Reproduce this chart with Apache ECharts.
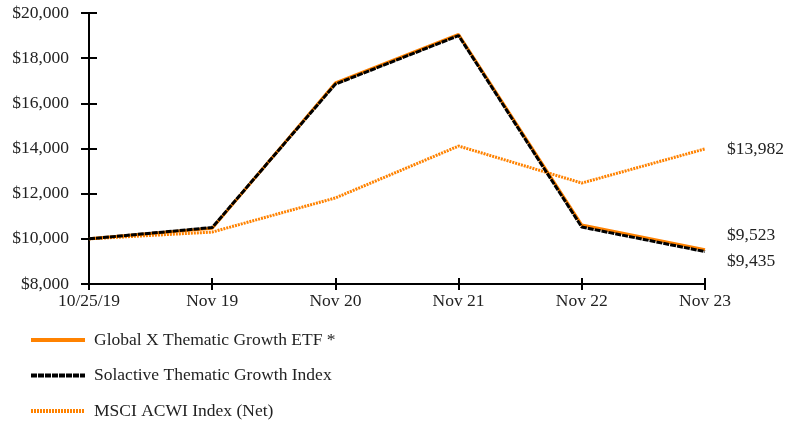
<!DOCTYPE html>
<html>
<head>
<meta charset="utf-8">
<script src="https://cdn.jsdelivr.net/npm/echarts@6/dist/echarts.min.js"></script>
<style>
	html, body { margin: 0; padding: 0; background: #ffffff; }
	#growthChart { width: 792px; height: 422px; }
</style>
</head>
<body>
<div id="growthChart"></div>
<script>
var dateLabels = ["10/25/19", "Nov 19", "Nov 20", "Nov 21", "Nov 22", "Nov 23"];
var etfValues = [10000, 10470, 16900, 19050, 10610, 9523];
var indexValues = [10000, 10500, 16850, 19000, 10520, 9435];
var msciValues = [10000, 10300, 11810, 14110, 12470, 13982];
var seriesNames = ["Global X Thematic Growth ETF *", "Solactive Thematic Growth Index", "MSCI ACWI Index (Net)"];

var fontName = "Liberation Serif";
var fontSz = 17.5;

function moneyFmt(v) {
	return "$" + v.toLocaleString("en-US");
}

var growthChart = echarts.init(document.getElementById("growthChart"));
var optionGrowthChart = {
	animation: false,
	backgroundColor: "#ffffff",
	textStyle: { fontFamily: fontName },
	grid: { left: 89, right: 87, top: 13, bottom: 138, containLabel: false },
	legend: {
		orient: "vertical",
		left: 29,
		top: 331,
		padding: 0,
		itemWidth: 54,
		itemHeight: 14,
		itemGap: 17.5,
		data: seriesNames,
		lineStyle: { width: 4 },
		itemStyle: { opacity: 0 },
		textStyle: { fontFamily: fontName, fontSize: fontSz, color: "#222222", padding: [0, 0, 0, 4] }
	},
	xAxis: [{
		type: "category",
		data: dateLabels,
		boundaryGap: false,
		axisLine: { lineStyle: { color: "#000000", width: 2 } },
		axisTick: { show: true, length: 6, lineStyle: { color: "#000000", width: 2 } },
		axisLabel: { color: "#222222", fontSize: fontSz, fontFamily: fontName, margin: 8 },
		splitLine: { show: false }
	}, {
		// second copy only for the inward half of the ticks
		type: "category",
		data: dateLabels,
		boundaryGap: false,
		position: "bottom",
		axisLine: { show: false },
		axisTick: { show: true, inside: true, length: 6, lineStyle: { color: "#000000", width: 2 } },
		axisLabel: { show: false },
		splitLine: { show: false }
	}],
	yAxis: [{
		type: "value",
		min: 8000,
		max: 20000,
		interval: 2000,
		axisLine: { show: true, lineStyle: { color: "#000000", width: 2 } },
		axisTick: { show: true, length: 8, lineStyle: { color: "#000000", width: 2 } },
		axisLabel: { color: "#222222", fontSize: fontSz, fontFamily: fontName, margin: 20, formatter: moneyFmt },
		splitLine: { show: false }
	}, {
		type: "value",
		min: 8000,
		max: 20000,
		interval: 2000,
		position: "left",
		axisLine: { show: false },
		axisTick: { show: true, inside: true, length: 8, lineStyle: { color: "#000000", width: 2 } },
		axisLabel: { show: false },
		splitLine: { show: false }
	}],
	series: [{
		name: seriesNames[0],
		type: "line",
		data: etfValues,
		symbol: "none",
		z: 3,
		itemStyle: { color: "#ff8200" },
		lineStyle: { color: "#ff8200", width: 3 },
		endLabel: { show: true, formatter: function(p) { return moneyFmt(p.value); }, offset: [14, -14], color: "#222222", fontSize: fontSz, fontFamily: fontName }
	}, {
		name: seriesNames[1],
		type: "line",
		data: indexValues,
		symbol: "none",
		z: 4,
		itemStyle: { color: "#000000" },
		lineStyle: { color: "#000000", width: 3, type: [6, 1] },
		endLabel: { show: true, formatter: function(p) { return moneyFmt(p.value); }, offset: [14, 10], color: "#222222", fontSize: fontSz, fontFamily: fontName }
	}, {
		name: seriesNames[2],
		type: "line",
		data: msciValues,
		symbol: "none",
		z: 2,
		itemStyle: { color: "#ff8200" },
		lineStyle: { color: "#ff8200", width: 3, type: [2, 1] },
		endLabel: { show: true, formatter: function(p) { return moneyFmt(p.value); }, offset: [14, 0], color: "#222222", fontSize: fontSz, fontFamily: fontName }
	}]
};
growthChart.setOption(optionGrowthChart);
</script>
</body>
</html>
